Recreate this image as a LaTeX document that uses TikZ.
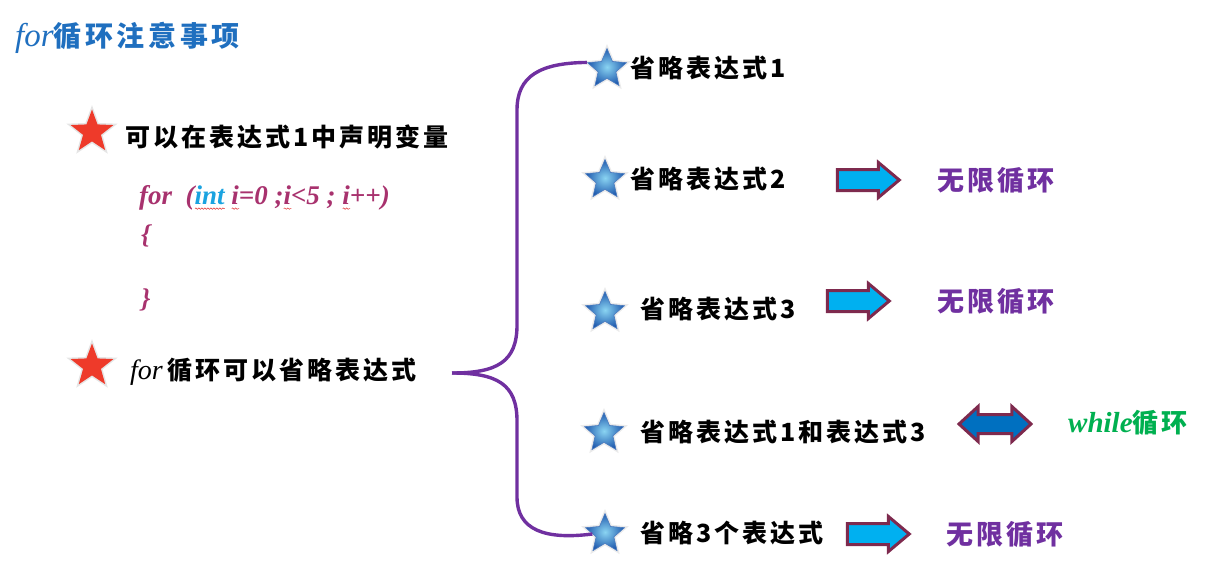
\documentclass[tikz,border=0pt]{standalone}
\usepackage{fontspec}
\usetikzlibrary{shapes.geometric,shapes.arrows,positioning,decorations.pathmorphing}
\setmainfont{Liberation Serif}
\newfontfamily\cjk[LetterSpace=12]{Noto Sans CJK SC}
\newfontfamily\cjktitle[LetterSpace=13]{Noto Sans CJK SC}
\definecolor{titleblue}{HTML}{1F6FBF}
\definecolor{codec}{HTML}{A8326E}
\definecolor{intc}{HTML}{1AA3E0}
\definecolor{wavered}{HTML}{E03030}
\definecolor{bracec}{HTML}{7030A0}
\definecolor{starred}{HTML}{EE3A2A}
\definecolor{starlight}{HTML}{8AD4F2}
\definecolor{stardark}{HTML}{1F5AAE}
\definecolor{arrowfill}{HTML}{00B0F0}
\definecolor{arrowedge}{HTML}{7E2A4E}
\definecolor{dblfill}{HTML}{0070C0}
\definecolor{loopc}{HTML}{7030A0}
\definecolor{whilec}{HTML}{00B050}

% red squiggle under a word
\newcommand\squig[1]{\setbox0\hbox{#1}\rlap{\raisebox{-4pt}{\tikz[baseline=0pt]\draw[wavered,line width=0.5pt,decorate,decoration={snake,amplitude=0.7pt,segment length=3pt}] (0pt,0pt)--(\wd0,0pt);}}\box0}

\tikzset{
    redstar/.style={star, star points=5, star point ratio=2.4, minimum size=45pt,
        inner sep=0pt, fill=starred, preaction={draw=black!10, line width=3pt}},
    bluestar/.style={star, star points=5, star point ratio=2.2, minimum size=41pt,
        inner sep=0pt, inner color=starlight, outer color=stardark, draw=stardark!80,
        line width=0.6pt, preaction={draw=black!8, line width=3.5pt}},
    lbl/.style={anchor=west, inner sep=0pt, font=\cjk\bfseries\fontsize{25}{25}\selectfont},
    result/.style={anchor=west, inner sep=0pt, text=loopc, font=\cjk\bfseries\fontsize{27}{27}\selectfont},
    code/.style={anchor=west, inner sep=0pt, text=codec, font=\bfseries\itshape\fontsize{27}{27}\selectfont},
    fatarrow/.style={single arrow, single arrow head extend=7pt, single arrow tip angle=80,
        minimum height=62pt, inner xsep=0pt, inner ysep=9pt,
        fill=arrowfill, draw=arrowedge, line width=3pt},
    twoarrow/.style={double arrow, double arrow head extend=8pt, double arrow tip angle=85,
        minimum height=72pt, inner xsep=0pt, inner ysep=8pt,
        fill=dblfill, draw=arrowedge, line width=3pt},
    brace/.style={draw=bracec, line width=3.4pt}
}

\begin{document}
\begin{tikzpicture}[x=1pt,y=-1pt]
    \useasboundingbox (0,0) rectangle (1212,567);

    % title
    \node[anchor=west, inner sep=0pt, text=titleblue] (title) at (15,38)
        {{\fontsize{33}{33}\selectfont\itshape for}{\cjktitle\bfseries\fontsize{28}{28}\selectfont 循环注意事项}};

    % left side
    \node[redstar] (r1) at (92,132) {};
    \node[lbl] (t1) at (125,137) {可以在表达式1中声明变量};
    \node[code] (c1) at (139,198) {for\ \ (\squig{\textcolor{intc}{int}}\ \squig{i}=0 ;\squig{i}<5 ; \squig{i}++)};
    \node[code] (c2) at (141,236) {\{};
    \node[code] (c3) at (141,300) {\}};
    \node[redstar] (r2) at (92,366) {};
    \node[anchor=west, inner sep=0pt] (t2) at (130,372)
        {{\fontsize{28}{28}\selectfont\itshape for\,}{\cjk\bfseries\fontsize{25}{25}\selectfont 循环可以省略表达式}};

    % right side
    \node[bluestar] (s1) at (607,69) {};
    \node[bluestar] (s2) at (605,180) {};
    \node[bluestar] (s3) at (605,312) {};
    \node[bluestar] (s4) at (604,433) {};
    \node[bluestar] (s5) at (605,534) {};
    \node[lbl] (o1) at (630,68) {省略表达式1};
    \node[lbl] (o2) at (630,179) {省略表达式2};
    \node[lbl] (o3) at (640,309) {省略表达式3};
    \node[lbl] (o4) at (640,432) {省略表达式1和表达式3};
    \node[lbl] (o5) at (640,533) {省略3个表达式};

    \node[fatarrow] (a1) at (862,180) {};
    \node[fatarrow] (a2) at (852,301) {};
    \node[twoarrow] (a4) at (995,424) {};
    \node[fatarrow] (a5) at (872,534) {};

    \node[result] (e1) at (937,180) {无限循环};
    \node[result] (e2) at (937,301) {无限循环};
    \node[anchor=west, inner sep=0pt, text=whilec] (e4) at (1068,423)
        {{\fontsize{29}{29}\selectfont\bfseries\itshape while}{\cjk\bfseries\fontsize{26}{26}\selectfont 循环}};
    \node[result] (e5) at (946,534) {无限循环};

    % brace
    \coordinate (bmid) at (452,373);
    \draw[brace] (bmid) .. controls (497,373) and (517,362) .. (517,325)
        -- (517,110) .. controls (517,76) and (540,63) .. (s1.outer point 2);
    \draw[brace] (bmid) .. controls (497,373) and (517,384) .. (517,421)
        -- (517,497) .. controls (517,530) and (545,540) .. (s5.west);
\end{tikzpicture}
\end{document}
